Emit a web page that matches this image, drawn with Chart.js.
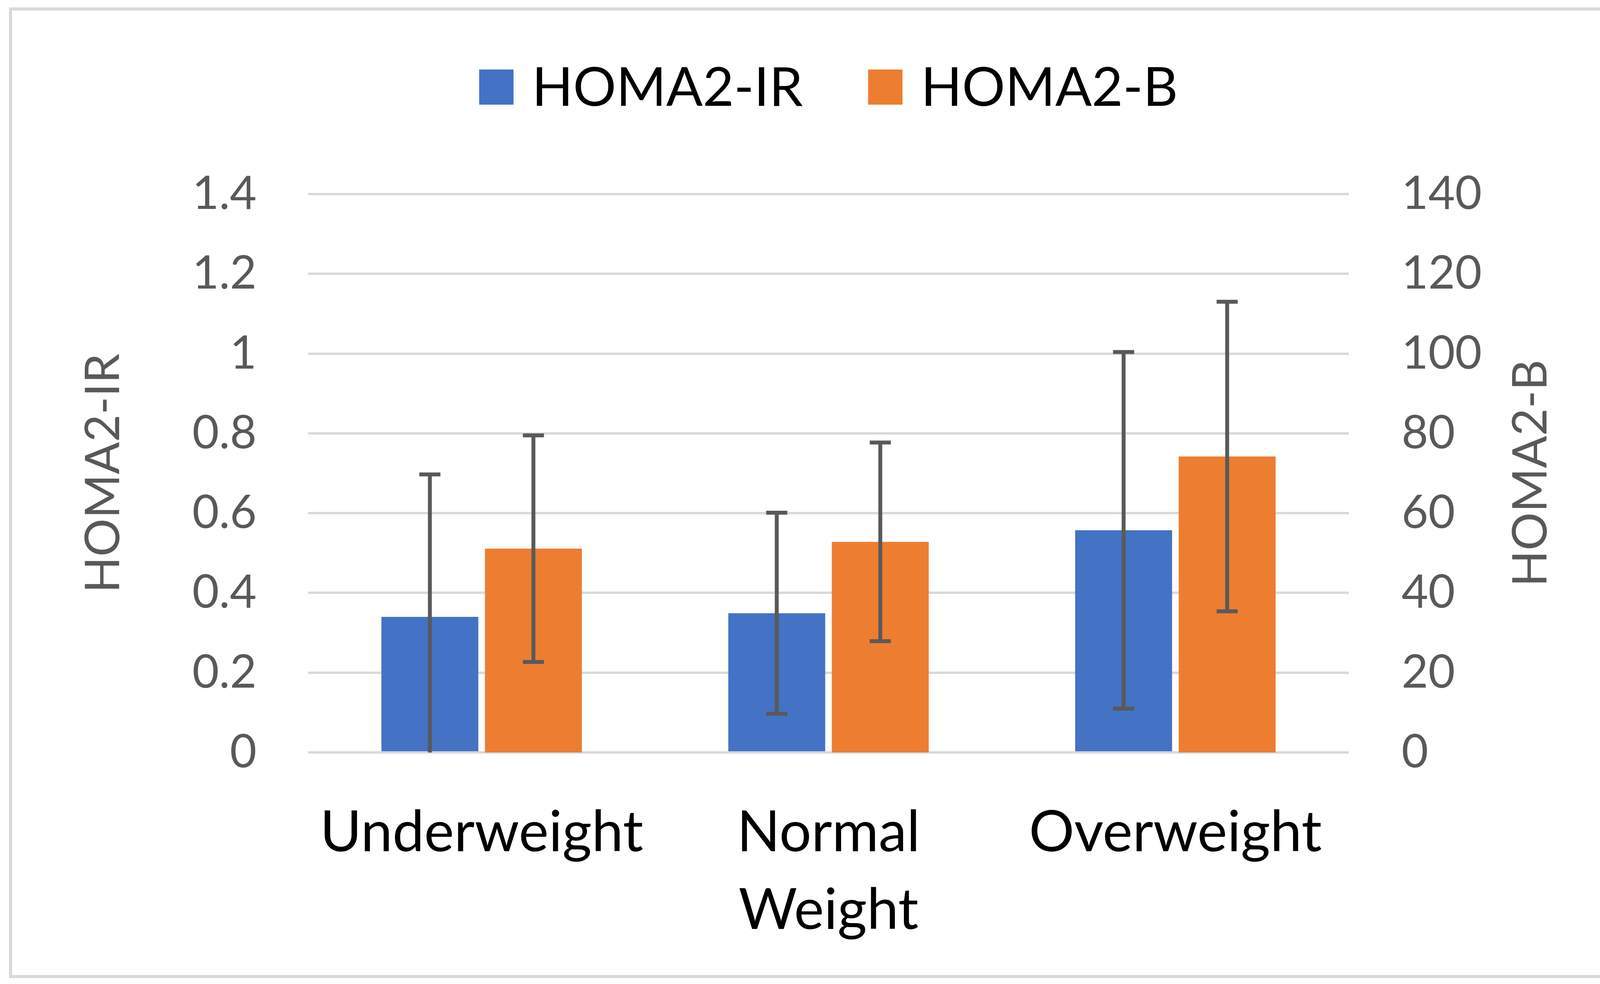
<!DOCTYPE html>
<html>
<head>
<meta charset="utf-8">
<script src="https://cdn.jsdelivr.net/npm/chart.js@4.4.0/dist/chart.umd.min.js"></script>
<style>
html,body{margin:0;padding:0;background:#fff;}
canvas{display:block;}
</style>
</head>
<body>
<canvas id="c" width="4168" height="2520"></canvas>
<script>
// values
const categories = ['Underweight', ['Normal', 'Weight'], 'Overweight'];
const irMean = [0.34, 0.349, 0.557];
const irSd = [0.357, 0.252, 0.447];
const bMean = [51.1, 52.8, 74.2];
const bSd = [28.4, 24.9, 38.8];
const irTicks = ['0', '0.2', '0.4', '0.6', '0.8', '1', '1.2', '1.4'];
const bTicks = ['0', '20', '40', '60', '80', '100', '120', '140'];
const rightTitle = 'HOMA2-B';

const FONT = 'Lato';
const GREY = '#595959';

// white background + light frame round the whole chart
const frame = {
  id: 'frame',
  beforeDraw(chart){
    const ctx = chart.ctx;
    ctx.save();
    ctx.fillStyle = '#fff';
    ctx.fillRect(0, 0, chart.width, chart.height);
    ctx.strokeStyle = '#d9d9d9';
    ctx.lineWidth = 8;
    ctx.strokeRect(27, 23, chart.width - 54, chart.height - 42);
    ctx.restore();
  }
};

// mean +/- sd whiskers, clipped to the plot area
const errorBars = {
  id: 'errorBars',
  afterDatasetsDraw(chart){
    const ctx = chart.ctx, area = chart.chartArea;
    ctx.save();
    ctx.beginPath();
    ctx.rect(area.left, area.top, area.right - area.left, area.bottom - area.top);
    ctx.clip();
    ctx.strokeStyle = GREY;
    ctx.lineWidth = 10;
    chart.data.datasets.forEach((ds, di)=>{
      const meta = chart.getDatasetMeta(di);
      const scale = chart.scales[ds.yAxisID];
      meta.data.forEach((bar, i)=>{
        const lo = scale.getPixelForValue(ds.data[i] - ds.sd[i]);
        const hi = scale.getPixelForValue(ds.data[i] + ds.sd[i]);
        ctx.beginPath();
        ctx.moveTo(bar.x, lo); ctx.lineTo(bar.x, hi);
        ctx.moveTo(bar.x - 27, lo); ctx.lineTo(bar.x + 27, lo);
        ctx.moveTo(bar.x - 27, hi); ctx.lineTo(bar.x + 27, hi);
        ctx.stroke();
      });
    });
    ctx.restore();
  }
};

// legend row above the plot, and the right axis title read bottom-to-top
const extras = {
  id: 'extras',
  afterDraw(chart){
    const ctx = chart.ctx, area = chart.chartArea;
    ctx.save();
    ctx.font = `138px ${FONT}`;
    const items = chart.data.datasets.map(ds=>({label: ds.label, color: ds.backgroundColor, w: ctx.measureText(ds.label).width}));
    const box = 88, gapText = 47, gapItem = 167;
    const total = items.reduce((s, it)=>s + box + gapText + it.w, 0) + gapItem * (items.length - 1);
    let x = (area.left + area.right) / 2 - total / 2;
    ctx.textBaseline = 'alphabetic';
    items.forEach(it=>{
      ctx.fillStyle = it.color;
      ctx.fillRect(x, 178, box, 90);
      x += box + gapText;
      ctx.fillStyle = '#000';
      ctx.fillText(it.label, x, 271);
      x += it.w + gapItem;
    });
    ctx.restore();

    const yB = chart.scales.yB;
    ctx.save();
    ctx.translate(yB.right - 248, (area.top + area.bottom) / 2);
    ctx.rotate(-Math.PI / 2);
    ctx.font = `122px ${FONT}`;
    ctx.fillStyle = GREY;
    ctx.textAlign = 'center';
    ctx.textBaseline = 'middle';
    ctx.fillText(rightTitle, 0, 0);
    ctx.restore();
  }
};

new Chart(document.getElementById('c'), {
  type: 'bar',
  data: {
    labels: categories,
    datasets: [
      { label: 'HOMA2-IR', data: irMean, sd: irSd, yAxisID: 'yIR', backgroundColor: '#4472C4',
        categoryPercentage: 0.597, barPercentage: 0.936 },
      { label: 'HOMA2-B', data: bMean, sd: bSd, yAxisID: 'yB', backgroundColor: '#ED7D31',
        categoryPercentage: 0.597, barPercentage: 0.936 }
    ]
  },
  options: {
    responsive: false,
    animation: false,
    devicePixelRatio: 1,
    layout: { padding: { top: 497, left: 0, right: 0, bottom: 0 } },
    plugins: { legend: { display: false }, tooltip: { enabled: false } },
    scales: {
      x: {
        grid: { display: false, drawTicks: false },
        border: { display: false },
        ticks: { font: { family: FONT, size: 145, lineHeight: 1.37 }, color: '#000', padding: 107, maxRotation: 0, autoSkip: false },
        afterFit(s){ s.height = 593; }
      },
      yIR: {
        position: 'left', min: 0, max: 1.4,
        ticks: { stepSize: 0.2, callback: (v, i)=>irTicks[i], font: { family: FONT, size: 118 }, color: GREY, padding: 132 },
        grid: { color: '#d9d9d9', lineWidth: 6, drawTicks: false },
        border: { display: false },
        title: { display: true, text: 'HOMA2-IR', font: { family: FONT, size: 122 }, color: GREY, padding: { top: 192, bottom: 0 } },
        afterFit(s){ s.width = 789; }
      },
      yB: {
        position: 'right', min: 0, max: 140,
        ticks: { stepSize: 20, callback: (v, i)=>bTicks[i], font: { family: FONT, size: 118 }, color: GREY, padding: 135 },
        grid: { display: false, drawTicks: false },
        border: { display: false },
        afterFit(s){ s.width = 715; }
      }
    }
  },
  plugins: [frame, errorBars, extras]
});
</script>
</body>
</html>
